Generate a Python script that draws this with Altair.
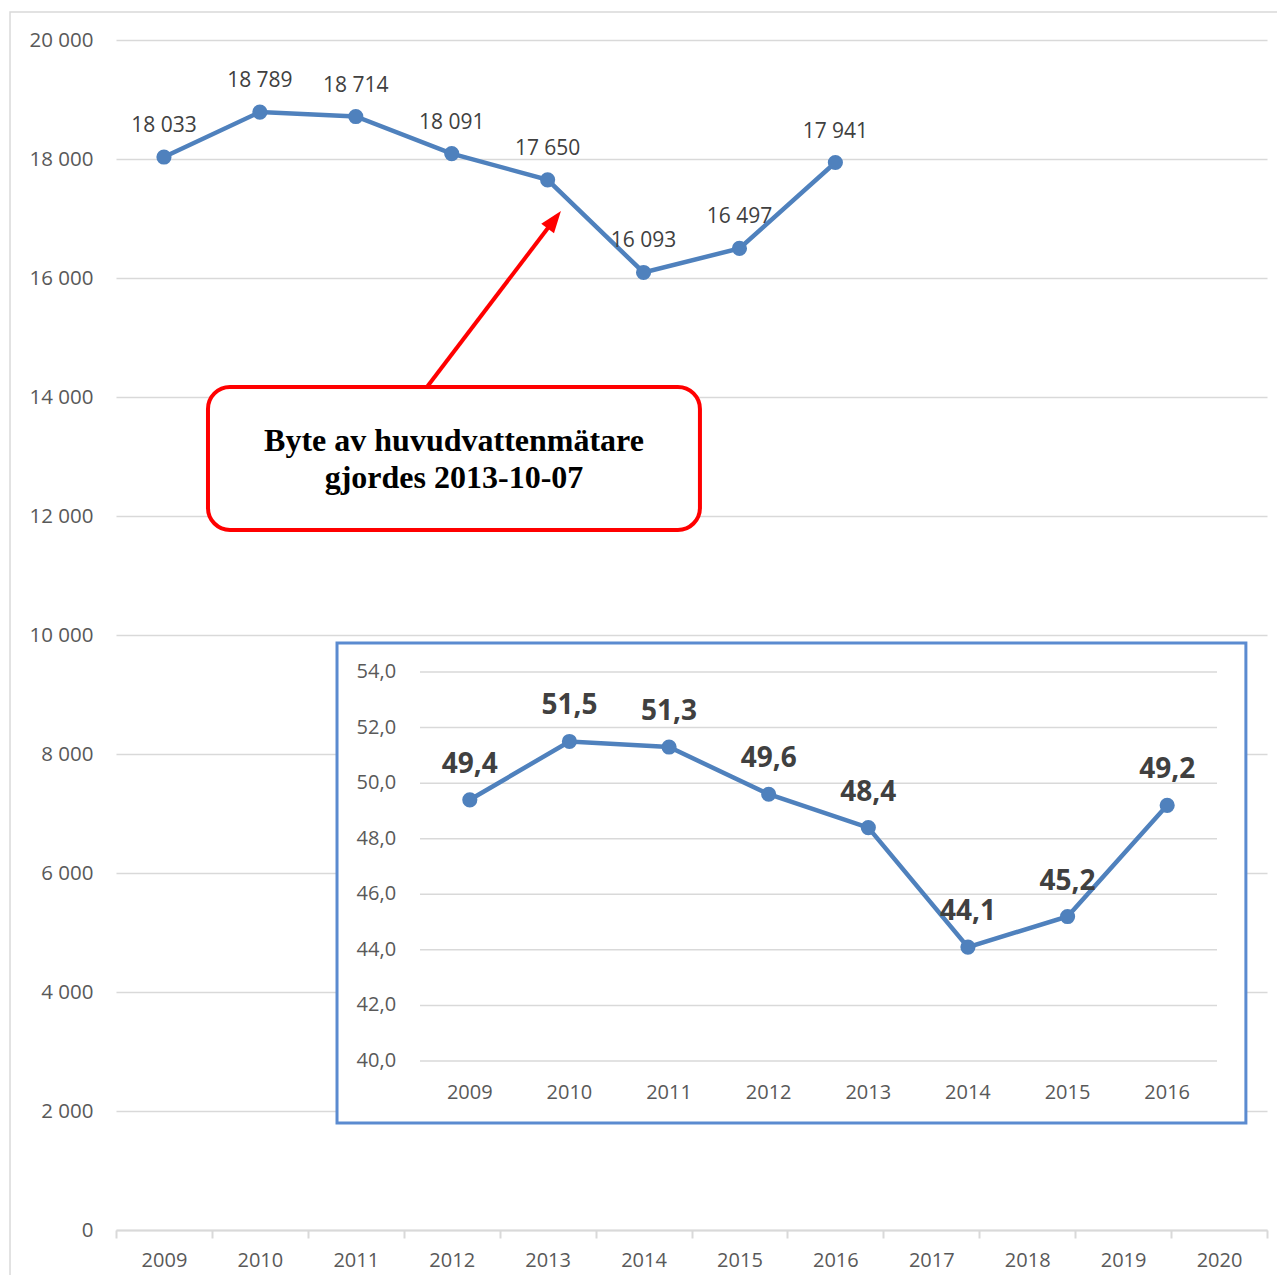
import altair as alt
import pandas as pd

# ---------------- data ----------------
years_all = [str(y) for y in range(2009, 2021)]
years = ["2009", "2010", "2011", "2012", "2013", "2014", "2015", "2016"]
consumption = [18033, 18789, 18714, 18091, 17650, 16093, 16497, 17941]
consumption_labels = ["18 033", "18 789", "18 714", "18 091", "17 650", "16 093", "16 497", "17 941"]

inset_values = [49.4, 51.5, 51.3, 49.6, 48.4, 44.1, 45.2, 49.2]
inset_labels = ["49,4", "51,5", "51,3", "49,6", "48,4", "44,1", "45,2", "49,2"]
inset_ticks = [40, 42, 44, 46, 48, 50, 52, 54]
inset_tick_labels = ["40,0", "42,0", "44,0", "46,0", "48,0", "50,0", "52,0", "54,0"]

annotation_lines = ["Byte av huvudvattenmätare", "gjordes 2013-10-07"]

# annotation geometry in data units (x: category index units, y: main value units)
box_x = [0.959, 6.088]
box_y = [11765, 14168]
text_x = 3.524
text_y = [13261, 12639]
arrow_start = (3.242, 14168)
arrow_base = (4.525, 16886)
arrow_tip = (4.639, 17126)
arrow_angle = 37.3
frame_x = [-1.105, 12.6]
frame_y = [-2000, 20470]

# inset geometry in inset data units
inset_border_x = [-0.833, 8.29]
inset_border_y = [37.77, 55.04]

W, H = 1151, 1190
BLUE = "#4F81BD"
GRID = "#d9d9d9"
LABEL = "#595959"
FONT = "Open Sans"

# ---------------- main chart ----------------
main_df = pd.DataFrame({"year": years, "value": consumption, "label": consumption_labels})

x_main = alt.X(
    "year:N",
    bandPosition=0.5,
    scale=alt.Scale(type="band", domain=years_all, paddingInner=0, paddingOuter=0),
    axis=alt.Axis(
        title=None, labelAngle=0, tickBand="extent", tickSize=8, tickColor=GRID,
        tickWidth=2, domainColor=GRID, domainWidth=2, labelFont=FONT,
        labelFontSize=20, labelColor=LABEL, labelPadding=12, grid=False,
    ),
)
y_main = alt.Y(
    "value:Q",
    scale=alt.Scale(domain=[0, 20000], nice=False),
    axis=alt.Axis(
        title=None, values=list(range(0, 20001, 2000)),
        labelExpr="replace(format(datum.value, ','), ',', ' ')",
        domain=False, ticks=False, grid=True, gridColor=GRID, gridWidth=1.5,
        labelFont=FONT, labelFontSize=20.5, labelColor=LABEL, labelPadding=23,
    ),
)

base_main = alt.Chart(main_df)
main_line = base_main.mark_line(color=BLUE, strokeWidth=4.5).encode(x=x_main, y=y_main)
main_pts = base_main.mark_circle(color=BLUE, size=230, opacity=1).encode(x=x_main, y=y_main)
main_txt = base_main.mark_text(dy=-31, font=FONT, fontSize=21, color="#404040").encode(
    x=x_main, y=y_main, text="label:N"
)
main_layer = alt.layer(main_line, main_pts, main_txt)

# ---------------- annotation ----------------
ax_scale = alt.Scale(domain=[0, 12], nice=False, zero=False)
ay_scale = alt.Scale(domain=[0, 20000], nice=False, zero=False)


def AX(f):
    return alt.X(f, type="quantitative", scale=ax_scale, axis=None)


def AY(f):
    return alt.Y(f, type="quantitative", scale=ay_scale, axis=None)


frame_df = pd.DataFrame({"x": [frame_x[0]], "x2": [frame_x[1]], "y": [frame_y[0]], "y2": [frame_y[1]]})
frame = alt.Chart(frame_df).mark_rect(fillOpacity=0, stroke=GRID, strokeWidth=1.5).encode(
    x=AX("x"), x2="x2:Q", y=AY("y"), y2="y2:Q"
)

arrow_df = pd.DataFrame({"x": [arrow_start[0], arrow_base[0]], "y": [arrow_start[1], arrow_base[1]], "o": [0, 1]})
arrow_line = alt.Chart(arrow_df).mark_line(color="#ff0000", strokeWidth=4).encode(
    x=AX("x"), y=AY("y"), order="o:Q"
)
head_df = pd.DataFrame({"x": [arrow_tip[0]], "y": [arrow_tip[1]]})
arrow_head = alt.Chart(head_df).mark_point(
    shape="M0,0 L-0.8,2.2 L0.8,2.2 Z", size=400, angle=arrow_angle, filled=True,
    color="#ff0000", opacity=1, strokeWidth=0,
).encode(x=AX("x"), y=AY("y"))

box_df = pd.DataFrame({"x": [box_x[0]], "x2": [box_x[1]], "y": [box_y[0]], "y2": [box_y[1]]})
box = alt.Chart(box_df).mark_rect(fill="white", stroke="#ff0000", strokeWidth=4, cornerRadius=22).encode(
    x=AX("x"), x2="x2:Q", y=AY("y"), y2="y2:Q"
)
ann_df = pd.DataFrame({"x": [text_x, text_x], "y": text_y, "t": annotation_lines})
ann_text = alt.Chart(ann_df).mark_text(
    font="Liberation Serif", fontWeight="bold", fontSize=32, color="black", baseline="middle"
).encode(x=AX("x"), y=AY("y"), text="t:N")

annot_layer = alt.layer(frame, arrow_line, arrow_head, box, ann_text)

# ---------------- inset ----------------
ix_scale = alt.Scale(domain=[0, 8], range=[304, 1101], nice=False, zero=False)
iy_scale = alt.Scale(domain=[40, 54], range=[1021, 632], nice=False, zero=False)


def IX(f):
    return alt.X(f, type="quantitative", scale=ix_scale, axis=None)


def IY(f):
    return alt.Y(f, type="quantitative", scale=iy_scale, axis=None)


border_df = pd.DataFrame({"x": [inset_border_x[0]], "x2": [inset_border_x[1]],
                          "y": [inset_border_y[0]], "y2": [inset_border_y[1]]})
inset_border = alt.Chart(border_df).mark_rect(fill="white", stroke="#5B8BD0", strokeWidth=3).encode(
    x=IX("x"), x2="x2:Q", y=IY("y"), y2="y2:Q"
)

grid_df = pd.DataFrame({"v": inset_ticks, "t": inset_tick_labels, "x0": 0, "x1": len(years)})
inset_grid = alt.Chart(grid_df).mark_rule(color=GRID, strokeWidth=1.5).encode(
    x=IX("x0"), x2="x1:Q", y=IY("v")
)
inset_ylab = alt.Chart(grid_df).transform_calculate(lx="-0.24").mark_text(
    align="right", baseline="middle", font=FONT, fontSize=20, color=LABEL
).encode(x=IX("lx"), y=IY("v"), text="t:N")

inset_df = pd.DataFrame({"year": years, "v": inset_values, "label": inset_labels,
                         "pos": [i + 0.5 for i in range(len(years))]})
inset_df["ly"] = 38.85
inset_line = alt.Chart(inset_df).mark_line(color=BLUE, strokeWidth=4.5).encode(x=IX("pos"), y=IY("v"))
inset_pts = alt.Chart(inset_df).mark_circle(color=BLUE, size=230, opacity=1).encode(x=IX("pos"), y=IY("v"))
inset_txt = alt.Chart(inset_df).mark_text(
    dy=-35, font=FONT, fontSize=28, fontWeight="bold", color="#404040"
).encode(x=IX("pos"), y=IY("v"), text="label:N")
inset_xlab = alt.Chart(inset_df).mark_text(
    baseline="middle", font=FONT, fontSize=20, color=LABEL
).encode(x=IX("pos"), y=IY("ly"), text="year:N")

inset_layer = alt.layer(inset_border, inset_grid, inset_ylab, inset_line, inset_pts, inset_txt, inset_xlab)

chart = (
    alt.layer(main_layer, annot_layer, inset_layer)
    .resolve_scale(x="independent", y="independent")
    .properties(
        width=W, height=H,
        padding={"left": 108, "top": 32, "right": 10, "bottom": 45},
        autosize=alt.AutoSizeParams(type="none"),
        background="white",
    )
    .configure_view(stroke=None)
)

chart.save("out.html", embed_options={"renderer": "svg", "actions": False})
